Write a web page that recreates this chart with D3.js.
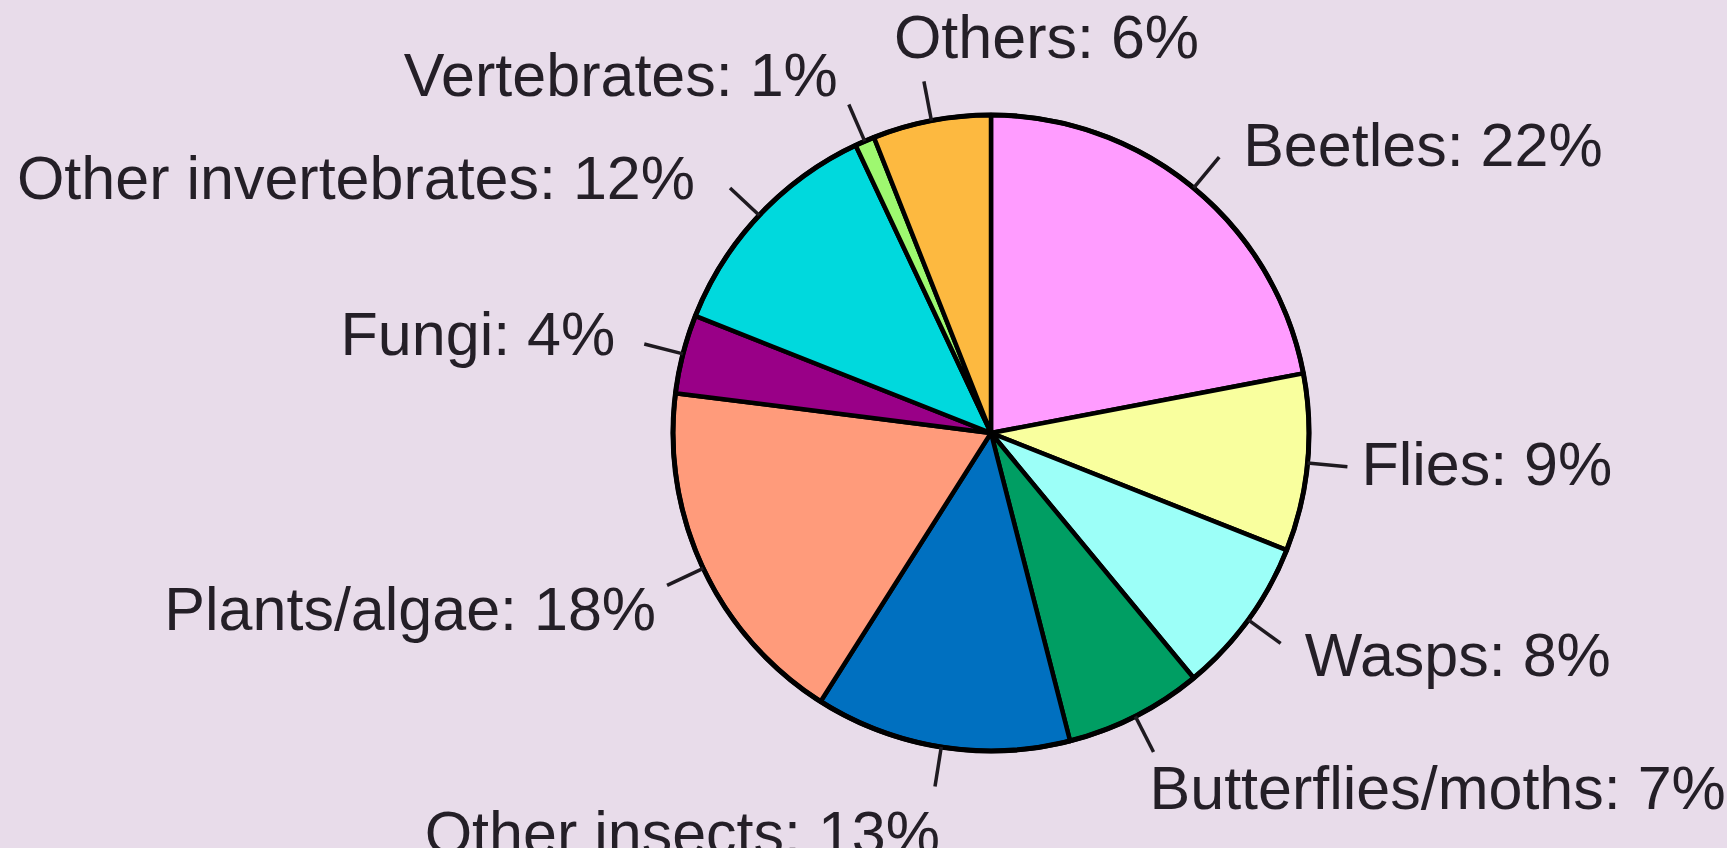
<!DOCTYPE html>
<html>
<head>
<meta charset="utf-8">
<title>what species are</title>
<script src="https://cdn.jsdelivr.net/npm/d3@7"></script>
<style>
body { margin:0; background:#e8dcea; overflow:hidden; }
svg { display:block; }
.lbl text { font-family: "Liberation Sans", Arial, sans-serif; font-size:61px; fill:#241f27; }
.slice path { stroke:#000; stroke-width:4.5px; stroke-linejoin:round; }
.leader { stroke:#1e1a20; stroke-width:3.5px; }
</style>
</head>
<body>
<script>

var groups = ["Beetles", "Flies", "Wasps", "Butterflies/moths", "Other insects",
              "Plants/algae", "Fungi", "Other invertebrates", "Vertebrates", "Others"];
var shares = [22, 9, 8, 7, 13, 18, 4, 12, 1, 6];
var colours = ["#ff9cff", "#f9ff9e", "#9cfff8", "#009e63", "#0070c0",
               "#ff9b7b", "#990087", "#00d9dd", "#9ef870", "#fdb940"];

// label layout: which way the text runs from the leader end, plus small px tweaks
var labelSide = ["start", "start", "start", "start", "end", "end", "end", "end", "end", "start"];
var labelNudge = [[10, 4], [0, -5], [10, -2], [-18, 16], [19, 24],
                  [3, 14], [-15, -5], [-21, 5], [3, -10], [-44, -23]];

var width = 1727,
    height = 848,
    cx = 991,
    cy = 433,
    radius = 318,
    leaderOut = 358,
    capHalf = 21.5;

var svg = d3.select("body").append("svg")
    .attr("width", width)
    .attr("height", height);

var g = svg.append("g")
    .attr("transform", "translate(" + cx + "," + cy + ")");

var rows = groups.map(function(name, i) {
  return {name: name, value: shares[i], colour: colours[i], i: i};
});

var pie = d3.pie()
    .sort(null)
    .value(function(d) { return d.value; });

var arc = d3.arc()
    .innerRadius(0)
    .outerRadius(radius);

var arcs = pie(rows);

g.append("g")
    .attr("class", "slice")
  .selectAll("path")
  .data(arcs)
  .enter().append("path")
    .attr("d", arc)
    .attr("fill", function(d) { return d.data.colour; });

g.append("circle")
    .attr("r", radius)
    .attr("fill", "none")
    .attr("stroke", "#000")
    .attr("stroke-width", 5);

function mid(d) { return (d.startAngle + d.endAngle) / 2; }
function pt(a, r) { return [Math.sin(a) * r, -Math.cos(a) * r]; }

var lbl = g.append("g").attr("class", "lbl");

lbl.selectAll("line")
  .data(arcs)
  .enter().append("line")
    .attr("class", "leader")
    .attr("x1", function(d) { return pt(mid(d), radius)[0]; })
    .attr("y1", function(d) { return pt(mid(d), radius)[1]; })
    .attr("x2", function(d) { return pt(mid(d), leaderOut)[0]; })
    .attr("y2", function(d) { return pt(mid(d), leaderOut)[1]; });

lbl.selectAll("text")
  .data(arcs)
  .enter().append("text")
    .attr("text-anchor", function(d) { return labelSide[d.data.i]; })
    .attr("x", function(d) {
      var p = pt(mid(d), leaderOut),
          s = labelSide[d.data.i] == "start" ? 1 : -1;
      return p[0] + 14 * s + labelNudge[d.data.i][0];
    })
    .attr("y", function(d) {
      var a = mid(d),
          p = pt(a, leaderOut);
      return p[1] - Math.cos(a) * 22 + capHalf + labelNudge[d.data.i][1];
    })
    .text(function(d) { return d.data.name + ": " + d.data.value + "%"; });

</script>
</body>
</html>
